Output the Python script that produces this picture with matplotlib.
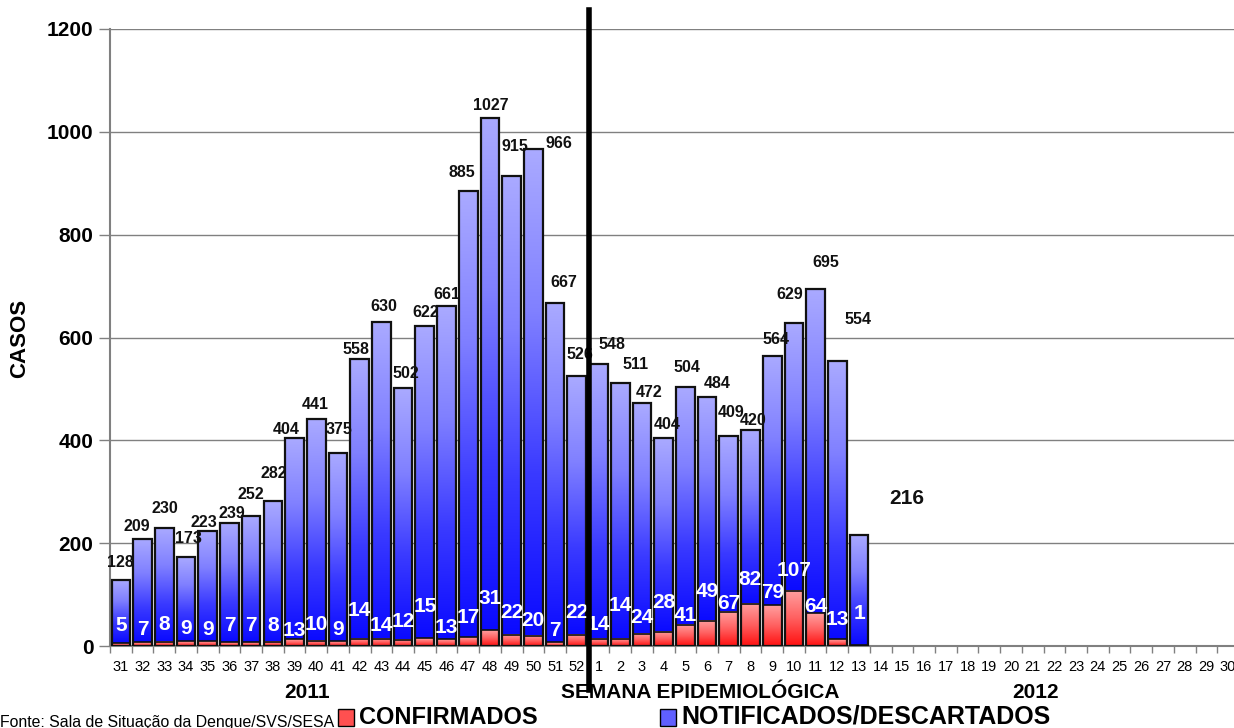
import numpy as np
import matplotlib
matplotlib.use('Agg')
from matplotlib import pyplot as plt
from matplotlib.colors import LinearSegmentedColormap
from matplotlib.patches import Rectangle

# semanas epidemiologicas 31/2011 .. 30/2012
weeks = [str(w) for w in range(31, 53)] + [str(w) for w in range(1, 31)]
notificados = [128, 209, 230, 173, 223, 239, 252, 282, 404, 441, 375, 558, 630, 502,
               622, 661, 885, 1027, 915, 966, 667, 526,
               548, 511, 472, 404, 504, 484, 409, 420, 564, 629, 695, 554, 216]
confirmados = [5, 7, 8, 9, 9, 7, 7, 8, 13, 10, 9, 14, 14, 12, 15, 13, 17, 31, 22, 20, 7, 22,
               14, 14, 24, 28, 41, 49, 67, 82, 79, 107, 64, 13, 1]

# label placement (pixels), mimicking the original auto layout
total_dx = [0, -6, 1, 2, -4, 2, 0, 1, -8, -1, 1, -4, 2, 3, 1, 0, -6, 1, 3, 26, 9, 3,
            13, 15, 7, 4, 2, 10, 2, 3, 4, -4, 10, 21, 48]
total_dy = [18, 12, 19, 19, 9, 10, 22, 28, 9, 15, 24, 10, 16, 14, 14, 12, 18, 12, 29, 6, 21, 21,
            20, 19, 11, 14, 19, 14, 23, 10, 17, 28, 26, 42, 36]
conf_dy = [18, 13, 17, 13, 12, 17, 17, 16, 9, 16, 12, 28, 13, 18, 32, 12, 20, 32, 22, 15, 12, 22,
           14, 33, 16, 29, 9, 29, 8, 24, 13, 20, 7, 20, 32]

blue_cmap = LinearSegmentedColormap.from_list('azul', ['#0a0aff', '#3a3aff', '#8080ff', '#aaaaff'])
red_cmap = LinearSegmentedColormap.from_list('verm', ['#ff1010', '#ff6060', '#ffa0a0'])

plt.rcParams['font.family'] = ['Liberation Sans', 'DejaVu Sans']

fig = plt.figure(figsize=(12.34, 7.28), dpi=100)
ax = fig.add_axes([110 / 1234, 1 - 646 / 728, 1129 / 1234, 617 / 728])

width = 0.86
grad = np.linspace(0, 1, 256).reshape(-1, 1)
for i, (tot, conf) in enumerate(zip(notificados, confirmados)):
    x0 = i - width / 2
    x1 = i + width / 2
    ax.imshow(grad, extent=[x0, x1, conf, tot], origin='lower', aspect='auto',
              cmap=blue_cmap, zorder=2, interpolation='bilinear')
    ax.imshow(grad, extent=[x0, x1, 0, conf], origin='lower', aspect='auto',
              cmap=red_cmap, zorder=2, interpolation='bilinear')
ax.bar(range(len(notificados)), notificados, width=width, fill=False,
       edgecolor='#111111', linewidth=1.6, zorder=3)
ax.bar(range(len(confirmados)), confirmados, width=width, fill=False,
       edgecolor='#111111', linewidth=1.2, zorder=3)

for i, tot in enumerate(notificados):
    big = (i == len(notificados) - 1)
    ax.annotate(str(tot), (i, tot), xytext=(total_dx[i], total_dy[i]), textcoords='offset pixels',
                ha='center', va='center', fontsize=15 if big else 11.5, fontweight='bold',
                color='#111111', zorder=5)
for i, conf in enumerate(confirmados):
    ax.annotate(str(conf), (i, conf), xytext=(0, conf_dy[i]), textcoords='offset pixels',
                ha='center', va='center', fontsize=15, fontweight='bold',
                color='white', zorder=5)

ax.set_xlim(-0.5, len(weeks) - 0.5)
ax.set_ylim(0, 1200)
ax.set_yticks(range(0, 1201, 200))
ax.tick_params(axis='y', labelsize=15, length=8, width=1, color='#808080', pad=4)
for lab in ax.get_yticklabels():
    lab.set_fontweight('bold')
ax.set_xticks(range(len(weeks)))
ax.set_xticklabels(weeks)
ax.set_xticks(np.arange(-0.5, len(weeks), 1), minor=True)
ax.tick_params(axis='x', which='major', length=0, labelsize=10.5, pad=10)
ax.tick_params(axis='x', which='minor', length=5, width=1, color='#808080')
ax.grid(axis='y', color='#808080', linewidth=1, zorder=0)
ax.set_axisbelow(True)
for s in ['top', 'right']:
    ax.spines[s].set_visible(False)
ax.spines['left'].set_color('#808080')
ax.spines['left'].set_linewidth(1.5)
ax.spines['bottom'].set_color('#808080')
ax.spines['bottom'].set_linewidth(1.5)

# divisao 2011 / 2012
ax.axvline(21.58, ymin=-0.071, ymax=1.031, color='black', linewidth=4, clip_on=False, zorder=6)

fig.text(20 / 1234, 1 - 338 / 728, 'CASOS', rotation=90, ha='center', va='center',
         fontsize=16, fontweight='bold')
fig.text(307 / 1234, 1 - 692 / 728, '2011', ha='center', va='center',
         fontsize=15, fontweight='bold')
fig.text(700 / 1234, 1 - 692 / 728, 'SEMANA EPIDEMIOLÓGICA', ha='center', va='center',
         fontsize=15, fontweight='bold')
fig.text(1036 / 1234, 1 - 692 / 728, '2012', ha='center', va='center',
         fontsize=15, fontweight='bold')

# legenda
fig.patches.append(Rectangle((338 / 1234, 1 - 726 / 728), 16 / 1234, 17 / 728, transform=fig.transFigure,
                             facecolor='#ff5050', edgecolor='black', linewidth=1))
fig.text(359 / 1234, 1 - 717 / 728, 'CONFIRMADOS', ha='left', va='center',
         fontsize=17, fontweight='bold')
fig.patches.append(Rectangle((660 / 1234, 1 - 726 / 728), 16 / 1234, 17 / 728, transform=fig.transFigure,
                             facecolor='#6060ff', edgecolor='black', linewidth=1))
fig.text(681 / 1234, 1 - 717 / 728, 'NOTIFICADOS/DESCARTADOS', ha='left', va='center',
         fontsize=18, fontweight='bold')
fig.text(0, 1 - 722 / 728, 'Fonte: Sala de Situação da Dengue/SVS/SESA', ha='left', va='center',
         fontsize=11.4)

fig.savefig('out.png', dpi=100)
